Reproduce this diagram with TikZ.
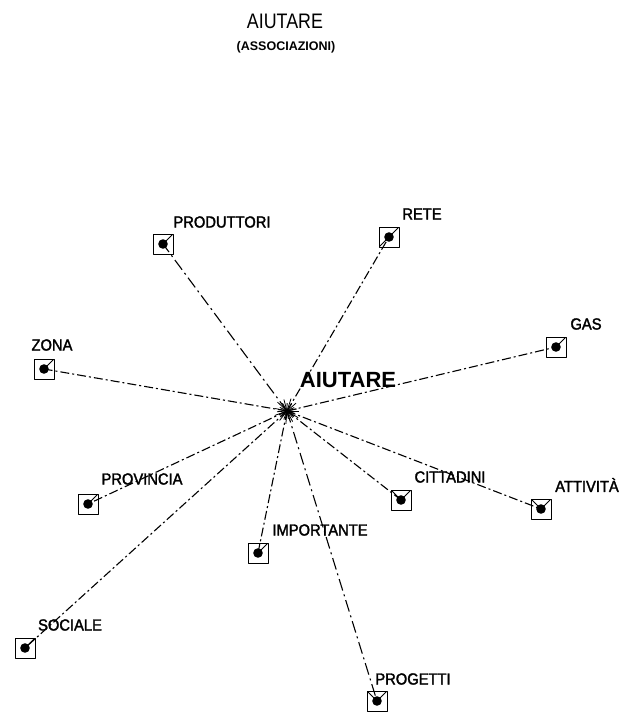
\documentclass[tikz,border=0pt]{standalone}
\usepackage{fontspec}
\setmainfont{Liberation Sans}
\newfontfamily\labelfont[FakeStretch=0.92, FakeBold=2]{Liberation Sans}
\newfontfamily\titlefont[FakeStretch=0.85]{Liberation Sans}
\begin{document}
\begin{tikzpicture}[
				x=1pt,
				y=-1pt,
				line join=round,
				wordbox/.style={draw, line width=1pt, minimum size=20pt, inner sep=0pt},
				tickne/.style={path picture={
					\fill (path picture bounding box.center) circle (4.8pt);
					\draw[line width=1pt] (path picture bounding box.center) -- (path picture bounding box.north east);}},
				tickv/.style={path picture={
					\fill (path picture bounding box.center) circle (4.8pt);
					\draw[line width=1pt] (path picture bounding box.north west) -- (path picture bounding box.center) -- (path picture bounding box.north east);}},
				tickdiag/.style={path picture={
					\fill (path picture bounding box.center) circle (4.8pt);
					\draw[line width=1pt] (path picture bounding box.south west) -- (path picture bounding box.north east);}},
				word/.style={font=\labelfont\fontsize{16}{16}\selectfont, inner sep=0pt},
				link/.style={line width=1.1pt, dash pattern=on 9pt off 3pt on 2pt off 3pt},
				longlink/.style={line width=1.1pt, dash pattern=on 12pt off 4pt on 2pt off 4pt}
			]

			\useasboundingbox (0,0) rectangle (623,713);

			% Title
			\node[font=\titlefont\fontsize{21}{21}\selectfont] (title) at (285,21) {AIUTARE};
			\node[font=\bfseries\fontsize{12.5}{12.5}\selectfont] (subtitle) at (286,47) {(ASSOCIAZIONI)};

			% Centre word
			\coordinate (hub) at (287,411);
			\node[font=\bfseries\fontsize{22}{22}\selectfont] (hub-l) at (348,380) {AIUTARE};

			% Associated words
			\node[wordbox, tickne] (produttori) at (163,244) {};
			\node[wordbox, tickdiag] (rete) at (389,237) {};
			\node[wordbox, tickne] (gas) at (556,347) {};
			\node[wordbox, tickne] (zona) at (44,369) {};
			\node[wordbox, tickne] (provincia) at (88,504) {};
			\node[wordbox, tickv] (cittadini) at (401,500) {};
			\node[wordbox, tickv] (attivita) at (541,509) {};
			\node[wordbox, tickne] (importante) at (258,553) {};
			\node[wordbox, tickne] (sociale) at (25,648) {};
			\node[wordbox, tickv] (progetti) at (377,701) {};

			\node[word] (produttori-l) at (222,222) {PRODUTTORI};
			\node[word] (rete-l) at (422,214) {RETE};
			\node[word] (gas-l) at (586,324) {GAS};
			\node[word] (zona-l) at (52,345) {ZONA};
			\node[word] (provincia-l) at (142,479) {PROVINCIA};
			\node[word] (cittadini-l) at (450,477) {CITTADINI};
			\node[word] (attivita-l) at (587,485) {ATTIVITÀ};
			\node[word] (importante-l) at (320,530) {IMPORTANTE};
			\node[word] (sociale-l) at (70,625) {SOCIALE};
			\node[word] (progetti-l) at (413,679) {PROGETTI};

			% Links
			\foreach \w in {rete,gas,zona,provincia,cittadini,attivita,importante,sociale}
				\draw[link] (hub) -- (\w.center);
			\foreach \w in {produttori,progetti}
				\draw[longlink] (hub) -- (\w.center);

			% Burst at the centre
			\foreach \a/\r in {0/12,17/8,31/13,48/9,62/12,80/8,95/13,111/9,128/12,143/8,160/13,176/10,
				192/12,207/8,223/13,240/9,255/12,271/8,288/13,303/9,319/12,334/8,348/10}
				\draw[line width=0.8pt] (hub) -- ++(\a:\r);

		\end{tikzpicture}
\end{document}
